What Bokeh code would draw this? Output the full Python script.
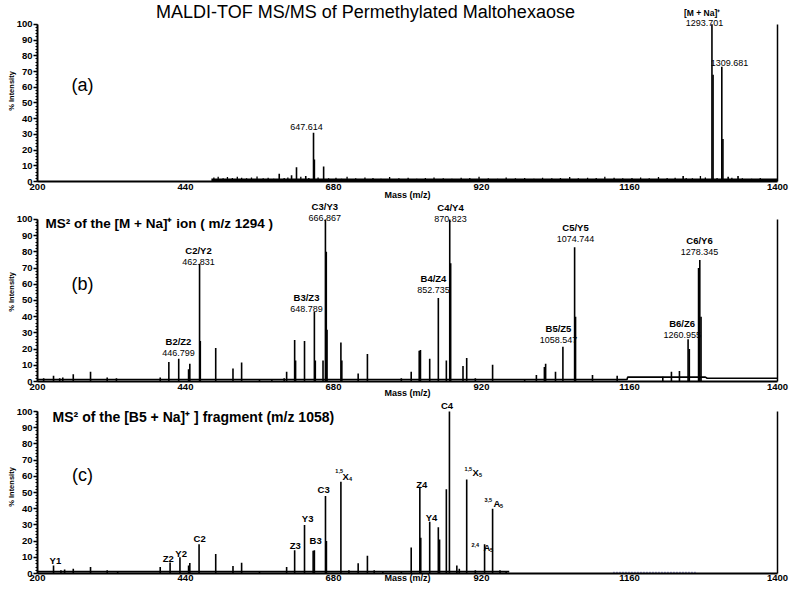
from math import pi
from bokeh.plotting import figure
from bokeh.layouts import column
from bokeh.models import Range1d, LinearAxis, FixedTicker, Label, ColumnDataSource
from bokeh.core.properties import value
from bokeh.embed import file_html
from bokeh.resources import INLINE

FONT = "Liberation Sans"

# ---------------- data ----------------
x_ticks = [200, 440, 680, 920, 1160, 1400]
y_ticks = [0, 10, 20, 30, 40, 50, 60, 70, 80, 90, 100]
y_minor = list(range(0, 101, 2))

# panel (a): MS of the precursor
a_mz = [592, 612, 620, 635, 647.6, 649, 664, 1247, 1252, 1293.7, 1295.5, 1309.7, 1311.5, 1320, 1336, 1350]
a_int = [5, 4, 9, 3.5, 31, 14, 9.5, 3.5, 2, 100, 68, 73, 27, 3, 3.5, 1.5]
a_noise_mz = [486, 493, 501, 508, 516, 524, 531, 539, 547, 556, 566, 574, 583, 600, 606, 627, 640, 655, 672, 684,
              693, 702, 716, 731, 744, 757, 771, 786, 801, 815, 829, 843, 858, 872, 887, 901, 916, 931, 946, 960,
              975, 990, 1005, 1019, 1034, 1048, 1063, 1077, 1092, 1106, 1120, 1135, 1149, 1164, 1178, 1192, 1207, 1221, 1234, 1262,
              1275, 1283, 1302, 1326, 1343, 1358, 1372, 1386]
a_noise_int = [2.5, 3, 2, 2.8, 2.2, 3, 2.4, 2, 2.6, 3.2, 2, 2.4, 1.8, 2.2, 2.6, 3, 2.2, 2.5, 2, 2.4,
               1.8, 3, 2, 2.6, 2.2, 1.8, 2.8, 2, 2.4, 1.8, 2.2, 2.6, 2, 1.8, 2.4, 2.2, 3, 2, 1.8, 2.6,
               2, 2.2, 1.8, 2.4, 2, 2.2, 2.8, 2, 2.4, 2.2, 3, 2.4, 2, 2.2, 2.6, 2, 2.8, 2.2, 2.4, 2,
               3.5, 2.6, 2.2, 2.4, 2, 1.8, 2.2, 1.6]
a_base_mz = [482, 1400]
a_base_int = [1.1, 1.1]
a_lab_text = ["647.614", "1309.681", "1293.701"]
a_lab_x = [636.2, 1322, 1281.6]
a_lab_y = [34.8, 75.3, 100.6]

# panel (b): MS2 of [M+Na]+
b_mz = [210, 226, 236, 241, 258, 286, 313, 328, 399, 413, 429, 445, 447, 462.8, 464, 489, 517, 531, 560, 580,
        600, 604, 617, 618.5, 633, 649, 650.5, 663, 666.9, 668.3, 669.5, 692, 693.5, 720, 735, 790, 806, 819, 821, 836,
        850, 863, 868.5, 870, 890, 896, 910, 938, 990, 1009, 1022, 1024, 1040, 1052, 1071, 1072.5, 1100, 1140, 1214, 1228,
        1241, 1255, 1257, 1272, 1274, 1276]
b_int = [2, 3.5, 2, 2.5, 4.5, 6, 2.5, 2, 2.5, 12, 14, 7.5, 11, 72.6, 25, 20.6, 8, 11.7, 1.5, 1.5,
         2, 6, 25.6, 13, 25, 43, 13, 13, 100, 80, 32, 24, 13, 5, 17, 2, 6, 19, 19.5, 14,
         51.5, 13, 100, 73, 9.6, 14.5, 2, 10.4, 1.5, 4, 9, 11, 6, 21.5, 82.8, 40, 4, 3.5, 3, 6,
         6.5, 26, 20, 70, 75, 40]
b_base_mz = [200, 1156, 1157, 1283, 1286, 1400]
b_base_int = [1.2, 1.2, 2.7, 2.7, 2.0, 2.0]
b_lab_name = ["B2/Z2", "C2/Y2", "B3/Z3", "C3/Y3", "B4/Z4", "C4/Y4", "B5/Z5", "C5/Y5", "B6/Z6", "C6/Y6"]
b_lab_val = ["446.799", "462.831", "648.789", "666.867", "852.735", "870.823", "1058.547", "1074.744", "1260.955", "1278.345"]
b_lab_x = [428.6, 461.1, 636.2, 665.9, 842.1, 869.7, 1044.8, 1072.4, 1245.4, 1273.5]
b_lab_y = [17.8, 73.6, 44.8, 100.9, 56.4, 100.2, 25.8, 88.2, 28.4, 80.2]

# panel (c): MS2 of [B5+Na]+
c_mz = [226, 238, 244, 258, 286, 313, 330, 399, 415, 431, 445, 447, 462, 489, 517, 531, 560, 604, 617, 633,
        647, 649, 667, 668.5, 692, 705, 720, 735, 746, 760, 790, 806, 820, 821.5, 836, 850, 852, 863, 868, 880,
        884, 896, 910, 925, 938, 950, 960]
c_int = [5, 2, 2.5, 3, 4, 2, 1, 4, 6.8, 10, 5, 6.5, 18, 12, 4.7, 6.6, 1.5, 4, 14.4, 30,
         14, 14.4, 47.8, 20, 56.7, 2, 6.4, 11, 2, 1.5, 1.5, 16, 53.6, 22, 32, 28.5, 21, 52, 100, 5,
         3, 58, 2, 18, 40, 2, 1.5]
c_base_mz = [200, 965]
c_base_int = [1.2, 1.2]
c_blue_mz = [1134, 1270]
c_blue_int = [0.7, 0.7]
c_lab_text = ["Y1", "Z2", "Y2", "C2", "Z3", "Y3", "B3", "C3", "Z4", "Y4", "C4"]
c_lab_x = [229, 412, 433, 463, 618, 638, 651, 664, 823, 839, 864]
c_lab_y = [8.0, 9.3, 12.3, 21.6, 17.3, 34, 20.4, 51.9, 55, 34.6, 104.0]
c_cmp_pre = ["1,5", "1,5", "2,4", "3,5"]
c_cmp_main = ["X", "X", "A", "A"]
c_cmp_sub = ["4", "5", "5", "5"]
c_pre_x = [683, 892.4, 903.7, 924.8]
c_pre_y = [63, 64.2, 17.3, 45.1]
c_main_x = [694.6, 905.4, 923.2, 939.4]
c_main_y = [59.9, 62.3, 16, 43.2]


# ---------------- helpers ----------------
def make_panel(height, y_end, border_bottom, standoff, label_standoff):
    p = figure(width=789, height=height, x_range=Range1d(200, 1400), y_range=Range1d(0, y_end),
               output_backend="svg", toolbar_location=None,
               min_border_left=37, min_border_right=12, min_border_top=0,
               min_border_bottom=border_bottom,
               background_fill_color="white", border_fill_color="white")
    p.outline_line_color = None
    p.xgrid.visible = False
    p.ygrid.visible = False
    xa = p.xaxis[0]
    xa.ticker = FixedTicker(ticks=x_ticks)
    xa.major_tick_in = 0
    xa.major_tick_out = 0
    xa.minor_tick_line_color = None
    xa.axis_line_width = 2
    xa.major_label_text_font = FONT
    xa.major_label_text_font_style = "bold"
    xa.major_label_text_font_size = "9.5px"
    xa.major_label_text_color = "black"
    xa.major_label_standoff = standoff
    xa.axis_label = "Mass (m/z)"
    xa.axis_label_text_font = FONT
    xa.axis_label_text_font_style = "bold"
    xa.axis_label_text_font_size = "9px"
    xa.axis_label_text_color = "black"
    xa.axis_label_standoff = label_standoff
    ya = p.yaxis[0]
    ya.ticker = FixedTicker(ticks=y_ticks, minor_ticks=y_minor)
    ya.bounds = (0, 100)
    ya.major_tick_in = 0
    ya.major_tick_out = 4
    ya.minor_tick_in = 0
    ya.minor_tick_out = 2
    ya.axis_line_width = 2
    ya.major_tick_line_width = 1.5
    ya.major_label_text_font = FONT
    ya.major_label_text_font_style = "bold"
    ya.major_label_text_font_size = "9.5px"
    ya.major_label_text_color = "black"
    ya.major_label_standoff = 1
    ya.axis_label = "% Intensity"
    ya.axis_label_text_font = FONT
    ya.axis_label_text_font_style = "bold"
    ya.axis_label_text_font_size = "7.5px"
    ya.axis_label_text_color = "black"
    ya.axis_label_standoff = -2
    ra = LinearAxis(ticker=FixedTicker(ticks=[]), bounds=(0, 100),
                    major_label_text_font_size="0px", major_tick_line_color=None,
                    minor_tick_line_color=None, axis_line_width=1.5, major_label_standoff=0)
    p.add_layout(ra, "right")
    return p


def add_tag(p, tag, tag_y):
    p.add_layout(Label(x=273, y=tag_y, text=tag, text_font=FONT, text_font_size="18px",
                       text_align="center", text_baseline="middle", text_color="black"))


def sticks(p, mz, inten, width=1.6):
    src = ColumnDataSource(dict(x=mz, y=inten))
    p.segment(x0="x", y0=0, x1="x", y1="y", source=src, line_color="black", line_width=width)


# ---------------- panel a ----------------
pa = make_panel(202, 182 / 1.58, 20, 2, -3)
pa.line(a_base_mz, a_base_int, line_color="black", line_width=2.4)
sticks(pa, a_noise_mz, a_noise_int, 1.3)
sticks(pa, a_mz, a_int, 1.6)
pa.text(x=a_lab_x, y=a_lab_y, text=a_lab_text, text_font=value(FONT), text_font_size="9px",
        text_align="center", text_baseline="middle", text_color="black")
pa.add_layout(Label(x=1277.8, y=107, text="[M + Na]⁺", text_font=FONT, text_font_style="bold",
                    text_font_size="8.5px", text_align="center", text_baseline="middle", text_color="black"))
pa.add_layout(Label(x=731.9, y=107.6, text="MALDI-TOF MS/MS of Permethylated Maltohexaose",
                    text_font=FONT, text_font_size="18px", text_align="center", text_baseline="middle",
                    text_color="black"))
add_tag(pa, "(a)", 61.4)

# ---------------- panel b ----------------
pb = make_panel(198, 180 / 1.63, 18, 2, -5)
pb.line(b_base_mz, b_base_int, line_color="black", line_width=1.6)
sticks(pb, b_mz, b_int, 1.6)
bsrc = ColumnDataSource(dict(x=b_lab_x, y=b_lab_y, name=b_lab_name, val=b_lab_val))
pb.text(x="x", y="y", text="val", source=bsrc, text_font=value(FONT), text_font_size="9px",
        text_align="center", text_baseline="middle", text_color="black")
pb.text(x="x", y="y", text="name", source=bsrc, text_font=value(FONT), text_font_style="bold",
        text_font_size="9.5px", text_align="center", text_baseline="middle", y_offset=-11.5,
        text_color="black")
pb.add_layout(Label(x=213, y=97.5, text="MS² of the [M + Na]⁺ ion ( m/z 1294 )", text_font=FONT,
                    text_font_style="bold", text_font_size="13.5px", text_align="left",
                    text_baseline="middle", text_color="black"))
add_tag(pb, "(b)", 60.1)

# ---------------- panel c ----------------
pc = make_panel(192, 173 / 1.62, 19, 1, -11)
pc.line(c_base_mz, c_base_int, line_color="black", line_width=1.8)
pc.line(c_blue_mz, c_blue_int, line_color="#4a4aa8", line_width=1.2, line_dash="1 2")
sticks(pc, c_mz, c_int, 1.6)
pc.text(x=c_lab_x, y=c_lab_y, text=c_lab_text, text_font=value(FONT), text_font_style="bold",
        text_font_size="9.5px", text_align="center", text_baseline="middle", text_color="black")
csrc = ColumnDataSource(dict(px=c_pre_x, py=c_pre_y, mx=c_main_x, my=c_main_y,
                             pre=c_cmp_pre, main=c_cmp_main, sub=c_cmp_sub))
pc.text(x="px", y="py", text="pre", source=csrc, text_font=value(FONT), text_font_style="bold",
        text_font_size="5.5px", text_align="left", text_baseline="middle", text_color="black")
pc.text(x="mx", y="my", text="main", source=csrc, text_font=value(FONT), text_font_style="bold",
        text_font_size="9.5px", text_align="left", text_baseline="middle", text_color="black")
pc.text(x="mx", y="my", text="sub", source=csrc, text_font=value(FONT), text_font_style="bold",
        text_font_size="5.5px", text_align="left", text_baseline="middle", x_offset=6.6, y_offset=2.5,
        text_color="black")
pc.add_layout(Label(x=224.5, y=96.3, text="MS² of the [B5 + Na]⁺ ] fragment (m/z 1058)", text_font=FONT,
                    text_font_style="bold", text_font_size="14px", text_align="left",
                    text_baseline="middle", text_color="black"))
add_tag(pc, "(c)", 60.5)

layout = column(pa, pb, pc, spacing=0)
open("out.html", "w").write(file_html(layout, INLINE))
